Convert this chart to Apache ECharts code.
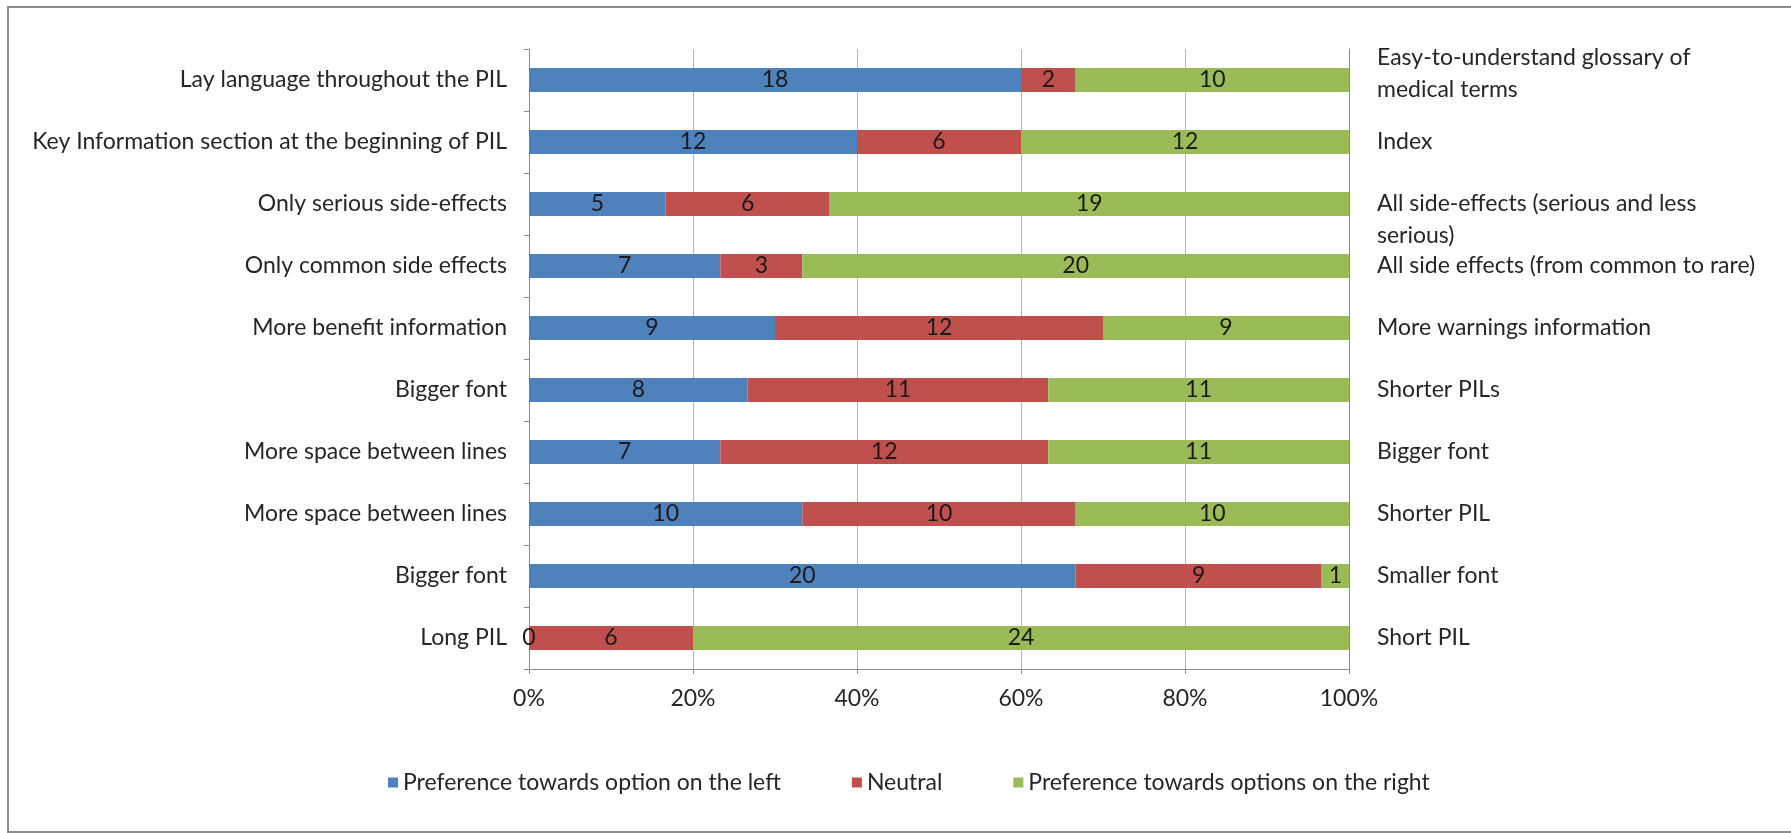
<!DOCTYPE html>
<html>
<head>
<meta charset="utf-8">
<script src="https://cdn.jsdelivr.net/npm/echarts@6/dist/echarts.min.js"></script>
<style>
  html, body { margin: 0; padding: 0; background: #ffffff; }
  #chart { width: 1791px; height: 833px; }
</style>
</head>
<body>
<div id="chart"></div>
<script>
// Options on the left of each pair (top to bottom)
const leftOptions = [
  'Lay language throughout the PIL',
  'Key Information section at the beginning of PIL',
  'Only serious side-effects',
  'Only common side effects',
  'More benefit information',
  'Bigger font',
  'More space between lines',
  'More space between lines',
  'Bigger font',
  'Long PIL'
];

// Options on the right of each pair (top to bottom)
const rightOptions = [
  'Easy-to-understand glossary of\nmedical terms',
  'Index',
  'All side-effects (serious and less\nserious)',
  'All side effects (from common to rare)',
  'More warnings information',
  'Shorter PILs',
  'Bigger font',
  'Shorter PIL',
  'Smaller font',
  'Short PIL'
];

// Number of respondents per answer
const preferLeft  = [18, 12, 5, 7, 9, 8, 7, 10, 20, 0];
const neutral     = [2, 6, 6, 3, 12, 11, 12, 10, 9, 6];
const preferRight = [10, 12, 19, 20, 9, 11, 11, 10, 1, 24];

const seriesNames = [
  'Preference towards option on the left',
  'Neutral',
  'Preference towards options on the right'
];

const xTicks = [0, 20, 40, 60, 80, 100];

const FONT = 'Lato, "Open Sans", sans-serif';
const TEXT_COLOR = '#262626';
const FS = 23;
const LINE_H = 32;

// Row totals, used to stack each row to 100%
const totals = preferLeft.map((v, i) => v + neutral[i] + preferRight[i]);
const toPercent = arr => arr.map((v, i) => v / totals[i] * 100);

const counts = [preferLeft, neutral, preferRight];
const colors = ['#4f81bd', '#c0504d', '#9bbb59'];

const series = counts.map((arr, s) => ({
  name: seriesNames[s],
  type: 'bar',
  stack: 'total',
  barWidth: 24,
  yAxisIndex: 0,
  itemStyle: { color: colors[s] },
  label: {
    show: true,
    position: 'inside',
    color: '#1a1a1a',
    fontFamily: FONT,
    fontSize: FS,
    formatter: p => String(arr[p.dataIndex])
  },
  emphasis: { disabled: true },
  data: toPercent(arr)
}));

// Wrapped right-hand labels: the first sits slightly above its bar,
// the second starts on its bar and runs on below it
function rightLabel(value, index) {
  const lines = value.split('\n').map(l => '{t|' + l + '}');
  if (lines.length < 2) return value;
  if (index === 0) return lines.join('\n') + '\n{gapS| }';
  return '{gapL| }\n' + lines.join('\n');
}

const chart = echarts.init(document.getElementById('chart'), null, { renderer: 'canvas' });

chart.setOption({
  animation: false,
  backgroundColor: '#ffffff',
  textStyle: { fontFamily: FONT },
  graphic: [{
    type: 'rect',
    shape: { x: 8, y: 7, width: 1800, height: 825 },
    style: { fill: 'none', stroke: '#8c8c8c', lineWidth: 2 },
    silent: true,
    z: -1
  }],
  grid: { left: 529, right: 442, top: 49, bottom: 164, containLabel: false },
  legend: {
    data: seriesNames,
    left: 388,
    top: 771,
    padding: 0,
    icon: 'rect',
    itemWidth: 10,
    itemHeight: 10,
    itemGap: 71,
    textStyle: { color: TEXT_COLOR, fontSize: FS, fontFamily: FONT },
    selectedMode: false
  },
  xAxis: {
    type: 'value',
    min: xTicks[0],
    max: xTicks[xTicks.length - 1],
    interval: xTicks[1] - xTicks[0],
    axisLine: { show: true, lineStyle: { color: '#8c8c8c', width: 1 } },
    axisTick: { show: true, length: 5, lineStyle: { color: '#8c8c8c' } },
    splitLine: { show: true, lineStyle: { color: '#b5b5b5', width: 1 } },
    axisLabel: {
      color: TEXT_COLOR, fontSize: FS, fontFamily: FONT, margin: 18,
      formatter: '{value}%'
    }
  },
  yAxis: [{
    type: 'category',
    data: leftOptions,
    inverse: true,
    position: 'left',
    axisLine: { show: true, lineStyle: { color: '#8c8c8c', width: 1 } },
    axisTick: { show: true, length: 5, lineStyle: { color: '#8c8c8c' } },
    axisLabel: { color: TEXT_COLOR, fontSize: FS, fontFamily: FONT, margin: 22 }
  }, {
    type: 'category',
    data: rightOptions,
    inverse: true,
    position: 'right',
    axisLine: { show: true, lineStyle: { color: '#8c8c8c', width: 1 } },
    axisTick: { show: false },
    axisLabel: {
      color: TEXT_COLOR, fontSize: FS, fontFamily: FONT, margin: 28,
      align: 'left', lineHeight: LINE_H,
      formatter: rightLabel,
      rich: {
        t: { color: TEXT_COLOR, fontSize: FS, fontFamily: FONT, lineHeight: LINE_H },
        gapS: { fontSize: 4, lineHeight: 12 },
        gapL: { fontSize: 4, lineHeight: LINE_H }
      }
    }
  }],
  series: series
});
</script>
</body>
</html>
